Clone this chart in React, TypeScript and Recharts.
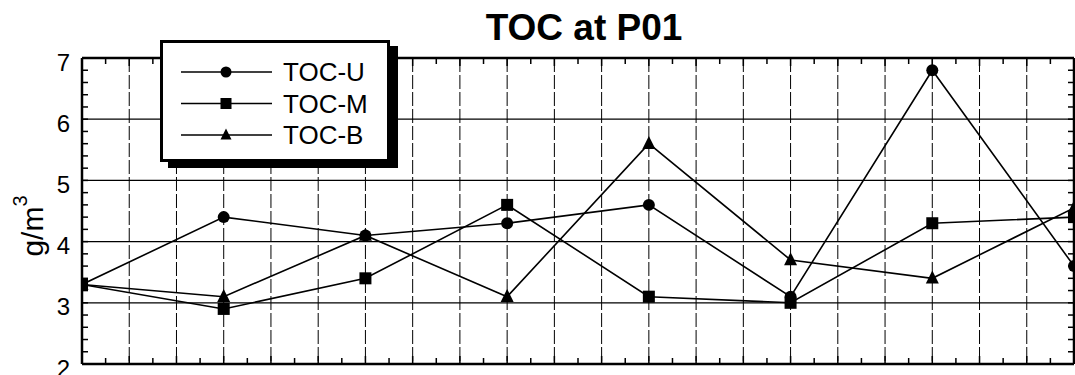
import { LineChart, Line, XAxis, YAxis, CartesianGrid, Legend } from "recharts";

// sample positions along the x axis (in grid steps, 3 grid steps between samples)
const samplePositions = [0, 3, 6, 9, 12, 15, 18, 21];
const tocU = [3.3, 4.4, 4.1, 4.3, 4.6, 3.1, 6.8, 3.6];
const tocM = [3.3, 2.9, 3.4, 4.6, 3.1, 3.0, 4.3, 4.4];
const tocB = [3.3, 3.1, 4.1, 3.1, 5.6, 3.7, 3.4, 4.55];

const yTicks = [2, 3, 4, 5, 6, 7];
const yMinorTicks = Array.from({ length: 26 }, (_, i) => 2 + i * 0.2);
const xGridTicks = Array.from({ length: 22 }, (_, i) => i);
const xMinorTicks = xGridTicks.slice(0, -1).map((v) => v + 0.5);

const data = samplePositions.map((pos, i) => ({
  pos,
  u: tocU[i],
  m: tocM[i],
  b: tocB[i],
}));

const FONT = "'Liberation Sans', Arial, sans-serif";

const Circle = ({ cx, cy, r = 6 }: any) => <circle cx={cx} cy={cy} r={r} fill="#000" />;
const Square = ({ cx, cy, size = 12 }: any) => (
  <rect x={cx - size / 2} y={cy - size / 2} width={size} height={size} fill="#000" />
);
const Triangle = ({ cx, cy, size = 13 }: any) => (
  <polygon
    points={`${cx},${cy - size * 0.6} ${cx + size / 2},${cy + size * 0.4} ${cx - size / 2},${cy + size * 0.4}`}
    fill="#000"
  />
);

const series = [
  { key: "u", name: "TOC-U", Marker: Circle },
  { key: "m", name: "TOC-M", Marker: Square },
  { key: "b", name: "TOC-B", Marker: Triangle },
];

function LegendBox() {
  return (
    <div
      style={{
        width: 224,
        height: 116,
        border: "3px solid #000",
        background: "#fff",
        boxShadow: "8px 6px 0 #000",
      }}
    >
      <svg width={224} height={116}>
        {series.map((s, i) => {
          const y = 29 + i * 31.5;
          const M = s.Marker;
          return (
            <g key={s.key}>
              <line x1={18} x2={109} y1={y} y2={y} stroke="#000" strokeWidth={1.5} />
              <M cx={63} cy={y} r={5.5} size={11} />
              <text x={120} y={y} dy="0.36em" fontSize={26} fontFamily={FONT} fill="#000">
                {s.name}
              </text>
            </g>
          );
        })}
      </svg>
    </div>
  );
}

const YTick = ({ x, y, payload }: any) => (
  <text x={x} y={y + 4} dy="0.36em" textAnchor="end" fontSize={24} fontFamily={FONT} fill="#000">
    {payload.value}
  </text>
);
// keeps tick lines but draws no label
const NoLabel = () => <g />;

const axisLine = { stroke: "#000", strokeWidth: 2.5 };
const major = { stroke: "#000", strokeWidth: 1.5 };

export default function App() {
  return (
    <div style={{ position: "absolute", left: 0, top: 0, width: 1075, height: 375, background: "#fff" }}>
      <LineChart width={1075} height={375} data={data} margin={{ top: 58, right: 1, bottom: 11, left: 81 }}>
        <CartesianGrid xAxisId="x" yAxisId="y" vertical={false} stroke="#000" strokeWidth={1.2} />
        <CartesianGrid
          xAxisId="x"
          yAxisId="y"
          horizontal={false}
          stroke="#000"
          strokeWidth={1}
          strokeDasharray="14 3"
        />

        <XAxis xAxisId="x" type="number" dataKey="pos" domain={[0, 21]} ticks={xGridTicks} interval={0} orientation="bottom"
          mirror height={1} tick={<NoLabel />} tickSize={8} axisLine={axisLine} tickLine={major} allowDataOverflow />
        <XAxis xAxisId="xb2" type="number" dataKey="pos" domain={[0, 21]} ticks={xMinorTicks} interval={0} orientation="bottom"
          mirror height={1} tick={<NoLabel />} tickSize={5} axisLine={false} tickLine={major} allowDataOverflow />
        <XAxis xAxisId="xt" type="number" dataKey="pos" domain={[0, 21]} ticks={xGridTicks} interval={0} orientation="top"
          mirror height={1} tick={<NoLabel />} tickSize={8} axisLine={axisLine} tickLine={major} allowDataOverflow />
        <XAxis xAxisId="xt2" type="number" dataKey="pos" domain={[0, 21]} ticks={xMinorTicks} interval={0} orientation="top"
          mirror height={1} tick={<NoLabel />} tickSize={5} axisLine={false} tickLine={major} allowDataOverflow />

        <YAxis yAxisId="y" type="number" domain={[2, 7]} ticks={yTicks} interval={0} orientation="left" width={1}
          tickSize={10} tickMargin={2} tickLine={false} axisLine={axisLine} tick={<YTick />} allowDataOverflow />
        <YAxis yAxisId="yl2" type="number" domain={[2, 7]} ticks={yMinorTicks} interval={0} orientation="left" width={1}
          mirror tickSize={6} tick={<NoLabel />} axisLine={false} tickLine={major} allowDataOverflow />
        <YAxis yAxisId="yr" type="number" domain={[2, 7]} ticks={yMinorTicks} interval={0} orientation="right" width={1}
          mirror tickSize={6} tick={<NoLabel />} axisLine={axisLine} tickLine={major} allowDataOverflow />

        <Legend
          layout="vertical"
          align="center"
          verticalAlign="middle"
          wrapperStyle={{ left: 160, top: 40, width: 236, height: 128 }}
          content={() => <LegendBox />}
        />

        <Line xAxisId="x" yAxisId="y" dataKey="b" name="TOC-B" stroke="#000" strokeWidth={1.6}
          isAnimationActive={false} dot={(p: any) => <Triangle key={`b${p.index}`} cx={p.cx} cy={p.cy} />} />
        <Line xAxisId="x" yAxisId="y" dataKey="u" name="TOC-U" stroke="#000" strokeWidth={1.6}
          isAnimationActive={false} dot={(p: any) => <Circle key={`u${p.index}`} cx={p.cx} cy={p.cy} />} />
        <Line xAxisId="x" yAxisId="y" dataKey="m" name="TOC-M" stroke="#000" strokeWidth={1.6}
          isAnimationActive={false} dot={(p: any) => <Square key={`m${p.index}`} cx={p.cx} cy={p.cy} />} />
      </LineChart>

      <svg width={1075} height={375} style={{ position: "absolute", left: 0, top: 0, pointerEvents: "none" }}>
        <text x={584} y={40} textAnchor="middle" fontSize={37} fontWeight="bold" fontFamily={FONT} fill="#000">
          TOC at P01
        </text>
        <text transform="translate(43,226) rotate(-90)" textAnchor="middle" fontSize={30} fontFamily={FONT} fill="#000">
          g/m<tspan dy={-16} fontSize={20}>3</tspan>
        </text>
      </svg>
    </div>
  );
}
